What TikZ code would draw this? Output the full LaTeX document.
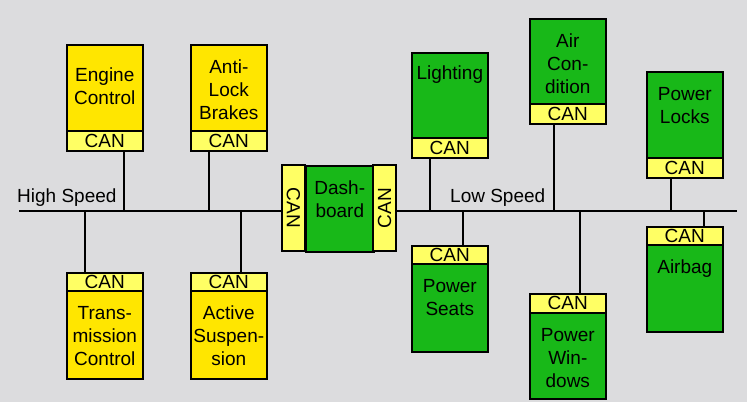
\documentclass[tikz,border=0pt]{standalone}
\usepackage{fontspec}
\setmainfont{Liberation Sans}
\usepackage{xcolor}

\definecolor{bggray}{RGB}{220,220,222}
\definecolor{ecuyellow}{RGB}{255,230,0}
\definecolor{canyellow}{RGB}{255,255,100}
\definecolor{ecugreen}{RGB}{24,184,24}

\tikzset{
	unit/.style={draw,line width=1.6pt,anchor=north west,minimum width=76pt,inner sep=0pt},
	unittext/.style={anchor=north,align=center,inner sep=0pt,yshift=-16pt,font=\fontsize{19}{23}\selectfont},
	can/.style={draw,line width=1.6pt,fill=canyellow,anchor=north west,minimum width=76pt,inner sep=0pt,font=\fontsize{19}{23}\selectfont},
	wire/.style={line width=1.8pt},
	buslabel/.style={anchor=base west,inner sep=0pt,font=\fontsize{19}{23}\selectfont}
}

\begin{document}
\begin{tikzpicture}[x=1pt,y=-1pt]
	\fill[bggray] (0,0) rectangle (747,402);

	\coordinate (hsl) at (19,211);
	\coordinate (lsr) at (737,211);
	\coordinate (enginetap) at (124,211);
	\coordinate (abstap) at (209,211);
	\coordinate (transtap) at (85,211);
	\coordinate (susptap) at (241,211);
	\coordinate (lighttap) at (430,211);
	\coordinate (seatstap) at (463,211);
	\coordinate (airtap) at (554,211);
	\coordinate (windowstap) at (580,211);
	\coordinate (lockstap) at (671,211);
	\coordinate (airbagtap) at (704,211);

	\node[unit,fill=ecuyellow,minimum height=86pt] (engine) at (66,44) {};
	\node[unittext,yshift=-8pt] at (engine.north) {Engine\\Control};
	\node[can,minimum height=20pt] (enginecan) at (66,130) {CAN};

	\node[unit,fill=ecuyellow,minimum height=86pt] (abs) at (190,44) {};
	\node[unittext] at (abs.north) {Anti-\\Lock\\Brakes};
	\node[can,minimum height=20pt] (abscan) at (190,130) {CAN};

	\node[can,minimum height=18pt] (transcan) at (66,272) {CAN};
	\node[unit,fill=ecuyellow,minimum height=88pt] (trans) at (66,290) {};
	\node[unittext] at (trans.north) {Trans-\\mission\\Control};

	\node[can,minimum height=18pt] (suspcan) at (190,272) {CAN};
	\node[unit,fill=ecuyellow,minimum height=88pt] (susp) at (190,290) {};
	\node[unittext] at (susp.north) {Active\\Suspen-\\sion};

	\node[unit,fill=ecugreen,minimum width=68pt,minimum height=86pt] (dash) at (305,165) {};
	\node[unittext] at (dash.north) {Dash-\\board};
	\node[can,anchor=center,rotate=-90,minimum width=86pt,minimum height=23pt] (dashcanl) at (293.5,208) {CAN};
	\node[can,anchor=center,rotate=90,minimum width=86pt,minimum height=23pt] (dashcanr) at (384.5,208) {CAN};

	\node[unit,fill=ecugreen,minimum height=85pt] (light) at (411,52) {};
	\node[unittext,yshift=2pt] at (light.north) {Lighting};
	\node[can,minimum height=20pt] (lightcan) at (411,137) {CAN};

	\node[can,minimum height=18pt] (seatscan) at (411,245) {CAN};
	\node[unit,fill=ecugreen,minimum height=88pt] (seats) at (411,263) {};
	\node[unittext] at (seats.north) {Power\\Seats};

	\node[unit,fill=ecugreen,minimum height=85pt] (air) at (529,18) {};
	\node[unittext] at (air.north) {Air\\Con-\\dition};
	\node[can,minimum height=20pt] (aircan) at (529,103) {CAN};

	\node[can,minimum height=19pt] (windowscan) at (529,293) {CAN};
	\node[unit,fill=ecugreen,minimum height=86pt] (windows) at (529,312) {};
	\node[unittext] at (windows.north) {Power\\Win-\\dows};

	\node[unit,fill=ecugreen,minimum height=86pt] (locks) at (646,71) {};
	\node[unittext] at (locks.north) {Power\\Locks};
	\node[can,minimum height=20pt] (lockscan) at (646,157) {CAN};

	\node[can,minimum height=18pt] (airbagcan) at (646,226) {CAN};
	\node[unit,fill=ecugreen,minimum height=87pt] (airbag) at (646,244) {};
	\node[unittext] at (airbag.north) {Airbag};

	\node[buslabel] (hslabel) at (17,202) {High Speed};
	\node[buslabel] (lslabel) at (450,202) {Low Speed};

	\draw[wire] (hsl) -- (hsl -| dashcanl.south);
	\draw[wire] (lsr -| dashcanr.south) -- (lsr);

	\draw[wire] (enginecan.south -| enginetap) -- (enginetap);
	\draw[wire] (abscan.south -| abstap) -- (abstap);
	\draw[wire] (transtap) -- (transcan.north -| transtap);
	\draw[wire] (susptap) -- (suspcan.north -| susptap);
	\draw[wire] (lightcan.south -| lighttap) -- (lighttap);
	\draw[wire] (seatstap) -- (seatscan.north -| seatstap);
	\draw[wire] (aircan.south -| airtap) -- (airtap);
	\draw[wire] (windowstap) -- (windowscan.north -| windowstap);
	\draw[wire] (lockscan.south -| lockstap) -- (lockstap);
	\draw[wire] (airbagtap) -- (airbagcan.north -| airbagtap);
\end{tikzpicture}
\end{document}
